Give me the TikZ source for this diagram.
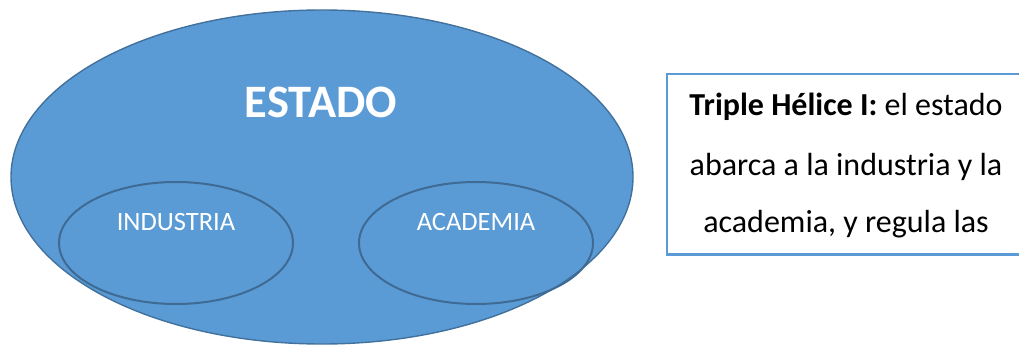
\documentclass[tikz,border=0pt]{standalone}
\usepackage{fontspec}
\setmainfont{Carlito}
\usepackage{xcolor}
\usepackage{tikz}
\usetikzlibrary{shapes.geometric, positioning}
\definecolor{accblue}{RGB}{91,155,213}
\definecolor{edgeblue}{RGB}{65,113,156}
\definecolor{innerblue}{RGB}{62,106,148}

\begin{document}
\begin{tikzpicture}[
    x=1pt, y=-1pt,
    bigell/.style={ellipse, draw=edgeblue, line width=1.4pt, fill=accblue,
                   inner sep=0pt, minimum width=622pt, minimum height=334pt},
    smallell/.style={ellipse, draw=innerblue, line width=2pt, fill=none,
                     inner sep=0pt, minimum width=234pt, minimum height=122pt},
    lbl/.style={text=white, inner sep=0pt, font=\fontsize{26.5}{30}\selectfont},
    txtbox/.style={rectangle, fill=white, inner sep=0pt,
                   minimum width=352pt, minimum height=180pt},
    boxedge/.style={draw=accblue, line width=2.2pt},
    txtline/.style={anchor=base, inner sep=0pt, font=\fontsize{32}{36}\selectfont},
]
\useasboundingbox (0,0) rectangle (1019,347);

%% ─── state ellipse ───────────────────────────────────────────
\node[bigell] (estado) at (322, 177) {};
\node[text=white, inner sep=0pt, font=\fontsize{46.5}{50}\selectfont\bfseries]
    (estadolbl) at (321, 102) {ESTADO};

%% ─── industry / academia ─────────────────────────────────────
\node[smallell] (ind) at (176, 243) {};
\node[smallell] (aca) at (476, 243) {};
\node[lbl] (indlbl) at (176, 222) {INDUSTRIA};
\node[lbl] (acalbl) at (476, 222) {ACADEMIA};

%% ─── caption box (open on the right, it runs off the page) ───
\node[txtbox, anchor=north west] (cap) at (667, 74) {};
\draw[boxedge] (cap.north east) -- (cap.north west) -- (cap.south west)
    -- (cap.south east);
\node[txtline] (cap1) at (846, 116) {\textbf{Triple Hélice I:} el estado};
\node[txtline] (cap2) at (846, 175.5) {abarca a la industria y la};
\node[txtline] (cap3) at (846, 233) {academia, y regula las};

\end{tikzpicture}
\end{document}
